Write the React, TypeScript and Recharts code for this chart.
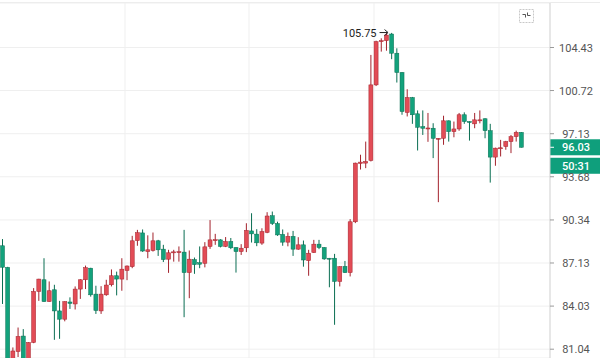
import React from 'react';
import { ComposedChart, Bar, XAxis, YAxis, CartesianGrid, ReferenceLine, ReferenceDot } from 'recharts';

const opens = [88.40,86.81,80.30,80.88,81.94,80.35,81.50,85.07,85.91,84.35,85.19,83.69,83.11,84.32,84.18,85.24,85.91,86.75,84.88,83.69,84.83,85.55,86.20,85.96,86.58,86.86,88.78,89.36,87.97,88.05,88.77,88.15,87.41,87.90,87.90,87.93,86.43,87.38,87.15,87.11,88.35,88.82,88.84,88.35,88.72,88.27,87.97,88.25,89.51,89.27,88.60,89.40,90.66,90.07,89.25,88.67,89.10,88.15,88.47,87.30,87.90,88.52,88.27,87.48,87.48,85.79,86.88,86.43,90.20,94.73,94.76,94.97,101.20,104.94,105.03,105.62,103.93,102.26,98.88,100.13,98.77,97.71,97.56,97.58,96.71,96.76,98.19,97.30,97.52,98.69,98.13,97.94,98.19,98.36,97.38,95.24,95.94,96.09,96.49,96.89,97.24];
const highs = [88.90,86.85,81.16,82.53,82.42,81.52,85.31,85.98,87.48,85.79,85.55,84.40,84.37,84.65,85.43,85.95,86.94,86.78,85.48,85.45,85.91,86.66,86.50,87.48,86.95,89.14,89.59,89.62,89.18,89.39,88.84,88.47,88.10,88.10,88.35,89.59,88.05,87.53,88.35,88.67,90.33,89.29,88.89,89.05,88.98,88.30,88.52,90.09,90.85,89.64,89.71,90.93,90.98,90.21,89.62,89.39,89.51,89.04,88.79,88.10,88.84,88.84,88.30,87.50,87.80,86.90,87.28,90.40,94.80,95.43,96.49,103.78,105.03,105.24,105.75,105.72,104.36,102.30,100.83,100.18,99.05,99.05,98.84,97.99,96.78,98.61,98.22,98.13,98.84,98.89,98.15,98.84,99.05,98.40,97.94,96.00,96.63,96.55,97.03,97.38,97.26];
const lows = [84.18,79.80,80.00,80.51,80.20,80.20,81.45,84.40,84.33,84.33,81.68,81.75,82.96,83.83,83.79,84.54,85.24,84.70,83.48,83.48,84.76,85.43,84.79,85.12,85.88,86.75,88.40,87.95,87.48,87.97,87.65,87.20,86.41,87.23,87.23,83.25,84.59,86.34,86.75,86.81,88.17,88.47,88.28,88.30,88.15,86.43,87.72,87.93,88.64,88.37,88.47,89.34,89.96,89.14,88.40,88.36,87.65,88.10,86.86,86.20,87.87,88.15,87.36,85.37,82.72,85.43,86.40,86.15,90.10,94.25,94.36,94.89,101.10,104.07,104.15,103.41,101.40,98.69,98.55,97.94,95.77,97.03,96.47,95.16,91.70,96.23,96.49,96.84,97.37,97.94,96.57,97.58,97.98,96.76,93.22,94.55,95.29,95.83,95.56,96.49,96.01];
const closes = [86.82,80.20,80.92,81.91,80.35,81.50,85.07,85.96,84.35,85.12,83.69,83.11,84.35,84.22,85.24,85.91,86.79,84.83,83.72,84.88,85.53,86.20,85.96,86.68,86.91,88.77,89.38,88.01,88.10,88.77,88.10,87.38,87.88,87.95,87.96,86.43,87.41,87.01,87.04,88.32,88.84,88.85,88.35,88.72,88.25,87.97,88.22,89.55,89.29,88.62,89.46,90.64,90.07,89.21,88.67,89.10,88.15,88.47,87.35,87.85,88.52,88.27,87.43,87.43,85.79,86.86,86.43,90.20,94.76,94.84,94.89,101.20,104.94,105.03,105.53,103.93,102.26,98.96,100.13,98.69,97.66,97.58,97.60,96.76,96.76,98.19,97.30,97.52,98.69,98.13,98.05,98.27,98.27,97.38,95.24,95.96,95.99,96.49,96.89,97.24,96.03];

const yTicks = [81.04, 84.03, 87.13, 90.34, 93.68, 97.13, 100.72, 104.43];
const yDomain = [80.443, 108.41];
const emptySlots = 5;
const lastPrice = 96.03;
const countdown = '50:31';
const peakIndex = 74;
const peakValue = 105.75;

const RED = '#e24c56';
const RED_EDGE = '#a3222c';
const GREEN = '#13a27c';
const GREEN_EDGE = '#0a6e52';
const LABEL_GREEN = '#0f9f7c';
const FONT = 'Roboto, "Noto Sans", sans-serif';

const data = [
  ...opens.map((o, i) => ({ i, o, h: highs[i], l: lows[i], c: closes[i], range: [lows[i], highs[i]] })),
  ...Array.from({ length: emptySlots }, (_, k) => ({ i: opens.length + k, range: null as any })),
];

const Candle = (props: any) => {
  const { x, y, width, height, payload } = props;
  if (!payload || payload.o == null) return null;
  const { o, h, l, c } = payload;
  const top = Math.min(y, y + height);
  const bottom = Math.max(y, y + height);
  const lh = Math.log(h);
  const span = lh - Math.log(l);
  const py = (v: number) => (span > 0 ? top + ((bottom - top) * (lh - Math.log(v))) / span : top);
  const up = c >= o;
  const fill = up ? RED : GREEN;
  const edge = up ? RED_EDGE : GREEN_EDGE;
  const cx = x + width / 2;
  const bw = 4;
  const bTop = py(Math.max(o, c));
  const bBot = py(Math.min(o, c));
  const bh = Math.max(1, bBot - bTop);
  return (
    <g>
      <line x1={cx} x2={cx} y1={top} y2={bottom} stroke={edge} strokeWidth={1} />
      <rect x={cx - bw / 2} y={bTop} width={bw} height={bh} fill={fill} stroke={edge} strokeWidth={0.5} />
    </g>
  );
};

const AxisTick = (props: any) => {
  const { x, y, payload } = props;
  return (
    <text x={x + 20} y={y} dy={4} textAnchor="middle" fill="#555" fontSize={11} fontFamily={FONT}>
      {payload.value.toFixed(2)}
    </text>
  );
};

const PriceLabel = (props: any) => {
  const vb = props.viewBox || {};
  const x0 = vb.x + vb.width;
  const yc = vb.y;
  return (
    <g>
      <rect x={x0} y={yc - 8} width={50} height={16} fill={LABEL_GREEN} />
      <line x1={x0} x2={x0 + 4} y1={yc} y2={yc} stroke="#fff" strokeWidth={1} />
      <text x={x0 + 26} y={yc} dy={4} textAnchor="middle" fill="#fff" fontSize={11} fontWeight={500} fontFamily={FONT}>
        {lastPrice.toFixed(2)}
      </text>
      <rect x={x0} y={yc + 10.5} width={50} height={16} fill={LABEL_GREEN} />
      <text x={x0 + 26} y={yc + 18.5} dy={4} textAnchor="middle" fill="#fff" fontSize={11} fontWeight={500} fontFamily={FONT}>
        {countdown}
      </text>
    </g>
  );
};

const PeakMark = (props: any) => {
  const { cx, cy } = props;
  if (cx == null || cy == null) return null;
  return (
    <g>
      <text x={cx - 10} y={cy} dy={4} textAnchor="end" fill="#222" fontSize={11} fontFamily={FONT}>
        {peakValue.toFixed(2)}
      </text>
      <line x1={cx - 7} x2={cx + 1} y1={cy} y2={cy} stroke="#222" strokeWidth={1} />
      <path d={`M${cx - 2},${cy - 3} L${cx + 1.5},${cy} L${cx - 2},${cy + 3}`} fill="none" stroke="#222" strokeWidth={1} />
    </g>
  );
};

export default function App() {
  return (
    <div style={{ position: 'absolute', left: 0, top: 0, width: 600, height: 358, background: '#fff', overflow: 'hidden' }}>
      <div style={{ position: 'absolute', left: 0, top: 2, width: 600, height: 1, background: '#ebebeb' }} />
      <ComposedChart width={600} height={358} data={data} margin={{ top: 3, right: 0, bottom: 0, left: 0 }} barCategoryGap={0}>
        <CartesianGrid stroke="#efefef" verticalPoints={[125, 249, 374, 499]} />
        <XAxis dataKey="i" hide />
        <YAxis
          orientation="right"
          width={50}
          type="number"
          scale="log"
          domain={yDomain}
          allowDataOverflow
          ticks={yTicks}
          interval={0}
          tick={<AxisTick />}
          tickSize={4}
          tickMargin={2}
          axisLine={{ stroke: '#cfcfcf' }}
          tickLine={{ stroke: '#9a9a9a' }}
        />
        <Bar dataKey="range" isAnimationActive={false} shape={<Candle />} />
        <ReferenceLine y={lastPrice} stroke="none" label={<PriceLabel />} />
        <ReferenceDot x={peakIndex} y={peakValue} r={0} shape={<PeakMark />} />
      </ComposedChart>
      <svg style={{ position: 'absolute', left: 519, top: 9 }} width={16} height={15}>
        <rect x={0.5} y={0.5} width={14} height={13} fill="#fff" stroke="#c8c8c8" strokeDasharray="2 1" />
        <path d="M3.5,5.5 H6.5 V8.5" fill="none" stroke="#555" strokeWidth={1} />
        <path d="M8.5,3.5 V6.5 H11.5" fill="none" stroke="#555" strokeWidth={1} />
      </svg>
    </div>
  );
}
